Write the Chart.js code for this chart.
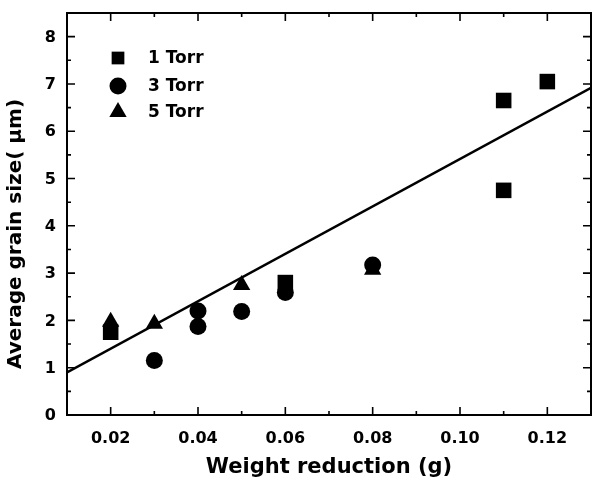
<!DOCTYPE html>
<html lang="en">
<head>
    <meta charset="UTF-8">
    <title>Average grain size vs weight reduction</title>
    <script src="https://cdn.jsdelivr.net/npm/chart.js"></script>
    <style>
        html, body { margin: 0; padding: 0; background: #fff; overflow: hidden; }
        #wrap { position: relative; width: 592px; height: 480px; }
    </style>
</head>
<body>
    <div id="wrap"><canvas id="grain-chart"></canvas></div>
    <script>
    // data
    const seriesNames = ['1 Torr', '3 Torr', '5 Torr'];
    const torr1X = [0.02, 0.06, 0.11, 0.11, 0.12];
    const torr1Y = [1.75, 2.80, 6.65, 4.75, 7.05];
    const torr3X = [0.03, 0.04, 0.04, 0.05, 0.06, 0.08];
    const torr3Y = [1.15, 2.20, 1.87, 2.19, 2.59, 3.17];
    const torr5X = [0.02, 0.03, 0.05, 0.08];
    const torr5Y = [1.97, 1.93, 2.75, 3.07];
    const fitX = [0.01, 0.13];
    const fitY = [0.90, 6.92];
    const xTicks = [0.02, 0.04, 0.06, 0.08, 0.10, 0.12];
    const yTicks = [0, 1, 2, 3, 4, 5, 6, 7, 8];
    const yTitle = 'Average grain size( \u03bcm)';

    const pts = (xs, ys) => xs.map((x, i) => ({ x: x, y: ys[i] }));
    const FONT = "'DejaVu Sans', 'Liberation Sans', Arial, sans-serif";

    // frame with inward ticks on all four sides, tick labels, legend, y title
    const framePlugin = {
        id: 'frame',
        afterDraw(chart) {
            const ctx = chart.ctx;
            const a = chart.chartArea;
            const xs = chart.scales.x, ys = chart.scales.y;
            ctx.save();
            ctx.strokeStyle = '#000';
            ctx.fillStyle = '#000';
            ctx.lineWidth = 2;
            ctx.strokeRect(a.left, a.top, a.right - a.left, a.bottom - a.top);

            ctx.lineWidth = 1.6;
            ctx.beginPath();
            xTicks.forEach(v => {
                const px = xs.getPixelForValue(v);
                ctx.moveTo(px, a.bottom); ctx.lineTo(px, a.bottom - 8);
                ctx.moveTo(px, a.top); ctx.lineTo(px, a.top + 8);
                const mx = xs.getPixelForValue(v + 0.01);
                if (mx < a.right - 2) {
                    ctx.moveTo(mx, a.bottom); ctx.lineTo(mx, a.bottom - 4);
                    ctx.moveTo(mx, a.top); ctx.lineTo(mx, a.top + 4);
                }
            });
            yTicks.forEach(v => {
                const py = ys.getPixelForValue(v);
                ctx.moveTo(a.left, py); ctx.lineTo(a.left + 8, py);
                ctx.moveTo(a.right, py); ctx.lineTo(a.right - 8, py);
                const my = ys.getPixelForValue(v + 0.5);
                ctx.moveTo(a.left, my); ctx.lineTo(a.left + 4, my);
                ctx.moveTo(a.right, my); ctx.lineTo(a.right - 4, my);
            });
            ctx.stroke();

            // tick labels
            ctx.font = 'bold 16px ' + FONT;
            ctx.textBaseline = 'middle';
            ctx.textAlign = 'center';
            xTicks.forEach(v => ctx.fillText(v.toFixed(2), xs.getPixelForValue(v), a.bottom + 24));
            ctx.textAlign = 'right';
            yTicks.forEach(v => ctx.fillText(String(v), a.left - 11, ys.getPixelForValue(v) + 1));

            // legend
            const rows = [58, 86, 112];
            ctx.font = 'bold 17px ' + FONT;
            ctx.textAlign = 'left';
            for (let i = 0; i < 3; i++) {
                const ds = chart.data.datasets[i];
                Chart.helpers.drawPoint(ctx, {
                    pointStyle: ds.pointStyle,
                    radius: i === 0 ? 9 : ds.pointRadius,
                    rotation: 0,
                    borderWidth: 0
                }, 118, rows[i]);
                ctx.fillStyle = '#000';
                ctx.fillText(seriesNames[i], 148, rows[i] + 1);
            }

            // y axis title (sits a little below the plot centre in the original)
            ctx.translate(16, 234);
            ctx.rotate(-Math.PI / 2);
            ctx.textAlign = 'center';
            ctx.font = 'bold 20px ' + FONT;
            ctx.fillText(yTitle, 0, 0);
            ctx.restore();
        }
    };

    const bgPlugin = {
        id: 'bg',
        beforeDraw(chart) {
            const ctx = chart.ctx;
            ctx.save();
            ctx.fillStyle = '#fff';
            ctx.fillRect(0, 0, chart.width, chart.height);
            ctx.restore();
        }
    };

    const marker = (style, r) => ({
        type: 'scatter',
        pointStyle: style,
        pointRadius: r,
        pointHoverRadius: r,
        backgroundColor: '#000',
        borderColor: '#000',
        borderWidth: 0
    });

    new Chart(document.getElementById('grain-chart'), {
        type: 'scatter',
        data: {
            datasets: [
                Object.assign({ label: seriesNames[0], data: pts(torr1X, torr1Y) }, marker('rect', 11)),
                Object.assign({ label: seriesNames[1], data: pts(torr3X, torr3Y) }, marker('circle', 8.5)),
                Object.assign({ label: seriesNames[2], data: pts(torr5X, torr5Y) }, marker('triangle', 10)),
                {
                    type: 'line',
                    label: 'fit',
                    data: pts(fitX, fitY),
                    borderColor: '#000',
                    borderWidth: 2.5,
                    pointRadius: 0,
                    fill: false,
                    tension: 0
                }
            ]
        },
        options: {
            responsive: true,
            maintainAspectRatio: false,
            animation: false,
            layout: { autoPadding: false, padding: { top: 13, right: 1, left: 0, bottom: 0 } },
            plugins: {
                legend: { display: false },
                tooltip: { enabled: false }
            },
            scales: {
                x: {
                    type: 'linear',
                    min: 0.01,
                    max: 0.13,
                    grid: { display: false, drawTicks: false },
                    border: { display: false },
                    ticks: { display: false },
                    afterFit: s => { s.height = 65; },
                    title: {
                        display: true,
                        text: 'Weight reduction (g)',
                        color: '#000',
                        padding: { top: 0, bottom: 0 },
                        font: { family: FONT, size: 21, weight: 'bold' }
                    }
                },
                y: {
                    type: 'linear',
                    min: 0,
                    max: 8.5,
                    grid: { display: false, drawTicks: false },
                    border: { display: false },
                    ticks: { display: false },
                    afterFit: s => { s.width = 67; }
                }
            }
        },
        plugins: [bgPlugin, framePlugin]
    });
    </script>
</body>
</html>
